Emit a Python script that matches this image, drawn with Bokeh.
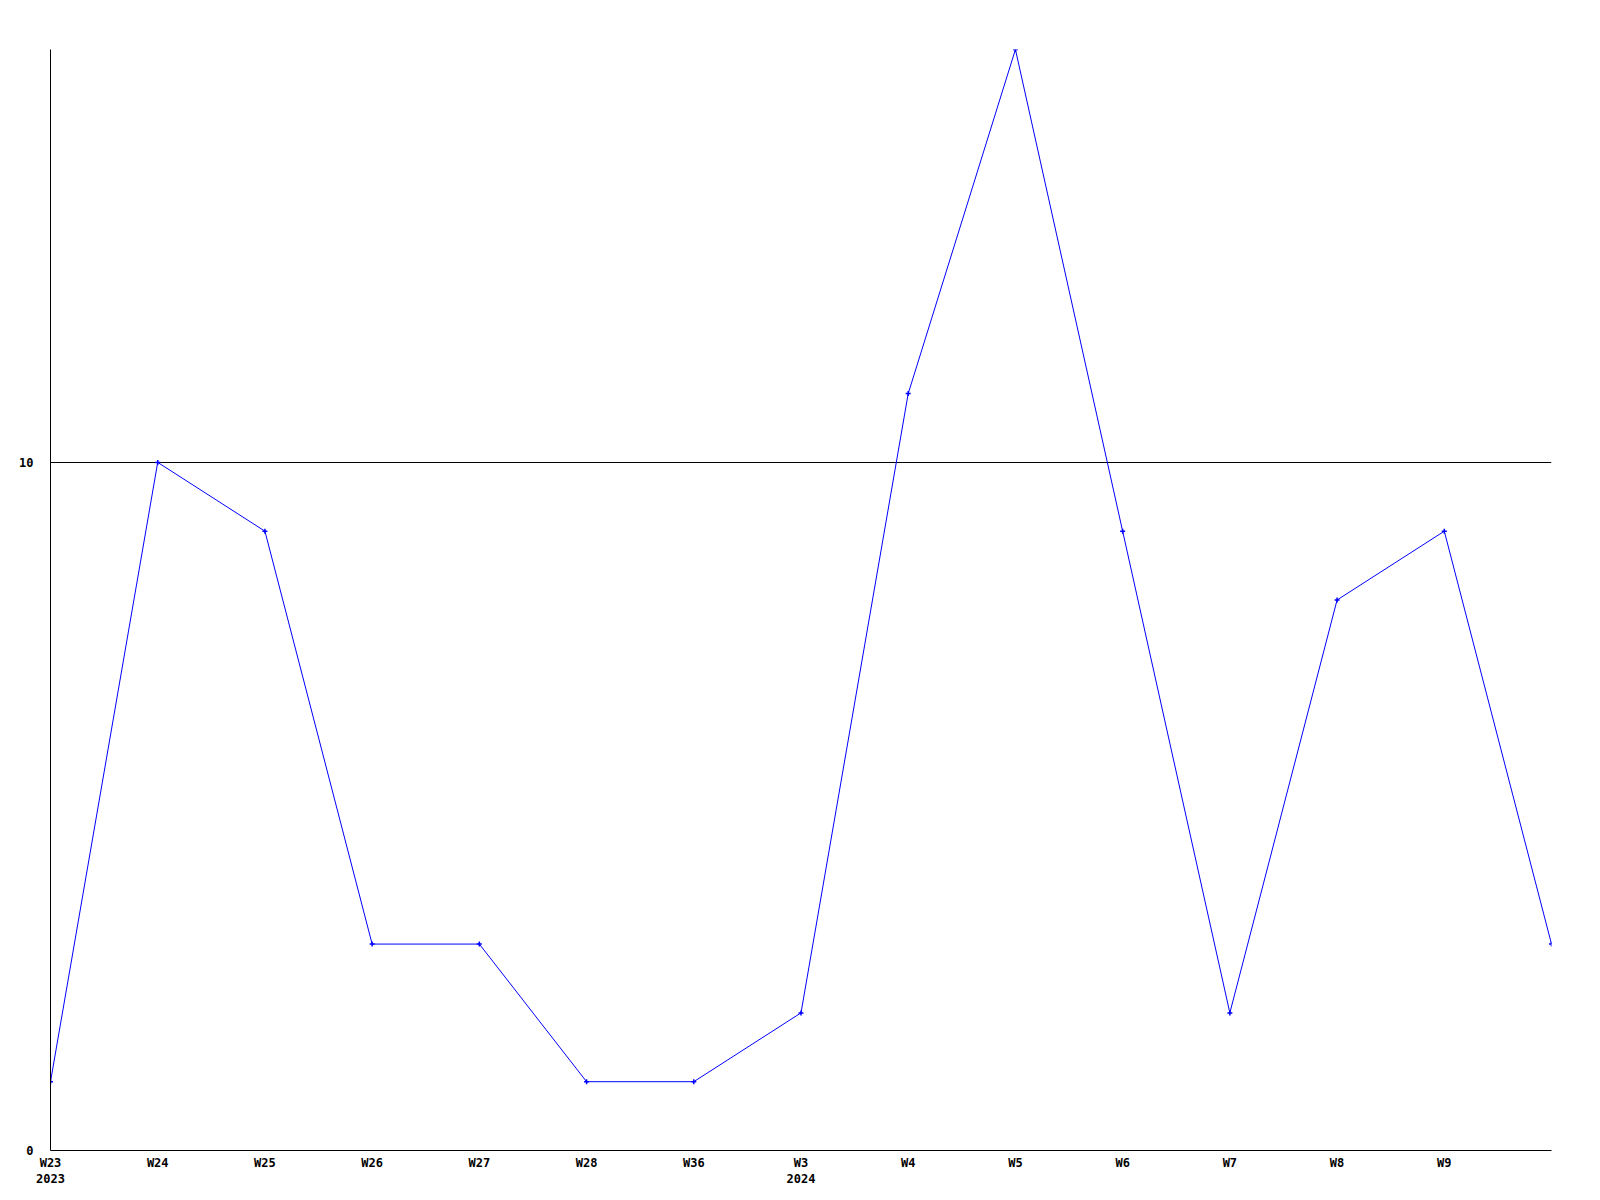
from bokeh.plotting import figure
from bokeh.models import FixedTicker, Range1d
from bokeh.embed import file_html
from bokeh.resources import INLINE

weeks = ["W23\n2023", "W24", "W25", "W26", "W27", "W28", "W36", "W3\n2024",
         "W4", "W5", "W6", "W7", "W8", "W9", ""]
values = [1, 10, 9, 3, 3, 1, 1, 2, 11, 16, 9, 2, 8, 9, 3]
y_ticks = [0, 10]

xs = list(range(len(values)))

p = figure(width=1592, height=1190, output_backend="svg", toolbar_location=None,
           x_range=Range1d(0, len(values) - 1), y_range=Range1d(0, 16),
           min_border_left=50, min_border_top=49, min_border_right=41, min_border_bottom=40)
p.outline_line_color = None
p.background_fill_color = "white"
p.border_fill_color = "white"

p.line(xs, values, line_color="#0000ff", line_width=1)
p.scatter(xs, values, marker="cross", size=5, line_color="#0000ff", line_width=1.5)

font = "DejaVu Sans Mono"
p.xaxis.ticker = FixedTicker(ticks=[i for i in xs if weeks[i]])
p.xaxis.major_label_overrides = {i: weeks[i] for i in xs if weeks[i]}
p.yaxis.ticker = FixedTicker(ticks=y_ticks)
p.yaxis.major_label_overrides = {t: str(t) for t in y_ticks}
for ax in (p.xaxis[0], p.yaxis[0]):
    ax.major_tick_out = 0
    ax.major_tick_in = 0
    ax.minor_tick_out = 0
    ax.minor_tick_in = 0
    ax.axis_line_color = "black"
    ax.axis_line_width = 1
    ax.major_label_text_font = font
    ax.major_label_text_font_style = "bold"
    ax.major_label_text_font_size = "12px"
    ax.major_label_text_color = "black"
p.xaxis.major_label_standoff = 5
p.yaxis.major_label_standoff = 17

p.xgrid.grid_line_color = None
p.ygrid.ticker = FixedTicker(ticks=[10])
p.ygrid.grid_line_color = "black"
p.ygrid.grid_line_alpha = 1.0
p.ygrid.grid_line_width = 1

open("out.html", "w").write(file_html(p, INLINE))
